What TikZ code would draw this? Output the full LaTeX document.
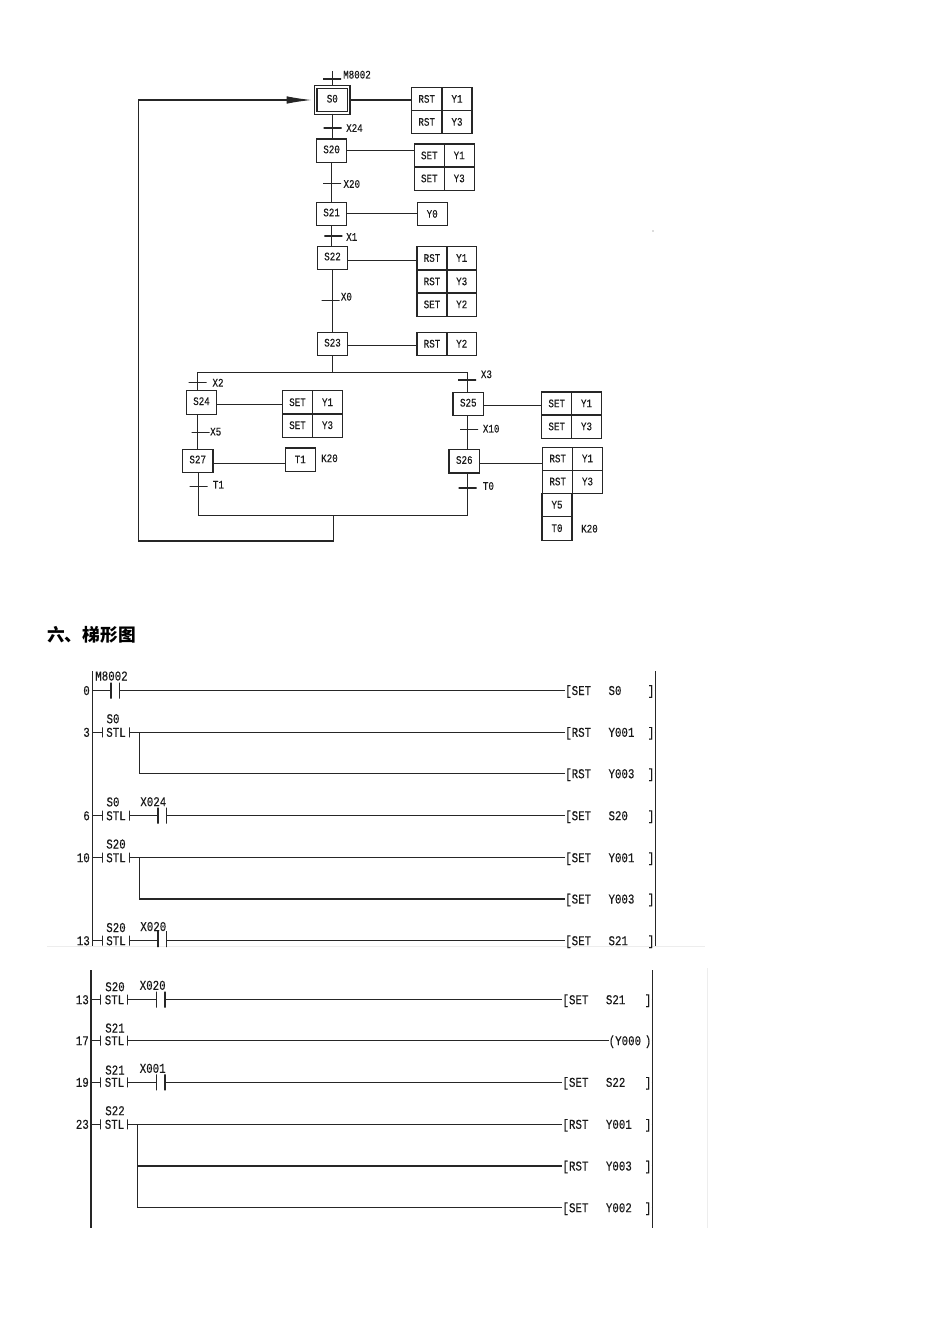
\documentclass[tikz,border=0pt]{standalone}
\usepackage{fontspec}
\usepackage{tikz}
\usetikzlibrary{arrows.meta}
\newfontfamily\cjk{Noto Sans CJK SC}
\newfontfamily\plcfont[FakeStretch=0.8,FakeBold=0.25]{Liberation Mono}
\tikzset{
  wire/.style={line width=1.15pt,black!85},
  sfctext/.style={font=\plcfont\fontsize{11.5}{12}\selectfont,text=black!90},
  plctext/.style={font=\plcfont\fontsize{13.5}{14}\selectfont,text=black!90,inner sep=0pt,text height=9pt,text depth=0pt},
  stepbox/.style={draw,wire,rectangle,sfctext,minimum width=30.5pt,minimum height=23.4pt,inner sep=0pt,text height=8pt,text depth=3pt},
  initbox/.style={stepbox,double,double distance=1.2pt,minimum width=33pt,minimum height=26pt},
  cell/.style={draw,wire,rectangle,sfctext,minimum width=30pt,minimum height=23.3pt,inner sep=0pt,text height=8pt,text depth=1pt},
  tbar/.style={draw,wire,rectangle,minimum width=18pt,minimum height=0pt,inner sep=0pt},
  tlabel/.style={sfctext,anchor=west,inner sep=0pt},
  cbar/.style={draw,wire,rectangle,minimum width=0pt,minimum height=16pt,inner sep=0pt},
  sbar/.style={cbar,minimum height=10pt},
  num/.style={plctext,anchor=east},
  ltext/.style={plctext,anchor=west},
  ctext/.style={plctext,anchor=center},
  faint/.style={line width=0.8pt,black!7}
}
\begin{document}
\begin{tikzpicture}[x=1pt,y=-1pt]
\useasboundingbox (0,0) rectangle (950,1344);
% steps
\coordinate (top) at (332.5,71);
\node (s0) [initbox] at (332.3,100) {S0};
\node (s20) [stepbox] at (331.6,150.7) {S20};
\node (s21) [stepbox] at (331.6,213.8) {S21};
\node (s22) [stepbox] at (332.5,257.8) {S22};
\node (s23) [stepbox] at (332.5,344) {S23};
\node (s24) [stepbox] at (201.5,402.5) {S24};
\node (s27) [stepbox] at (197.7,460.8) {S27};
\node (s25) [stepbox] at (468.3,404) {S25};
\node (s26) [stepbox] at (464.3,461.3) {S26};
% actions
\node (a0a) [cell] at (426.7,99.2) {RST};
\node (a0b) [cell] at (457,99.2) {Y1};
\node (a0c) [cell] at (426.7,122.2) {RST};
\node (a0d) [cell] at (457,122.2) {Y3};
\node (a20a) [cell] at (429.3,155.7) {SET};
\node (a20b) [cell] at (459.2,155.7) {Y1};
\node (a20c) [cell] at (429.3,178.7) {SET};
\node (a20d) [cell] at (459.2,178.7) {Y3};
\node (a21a) [cell] at (432.2,214.2) {Y0};
\node (a22a) [cell] at (432,258.3) {RST};
\node (a22b) [cell] at (461.7,258.3) {Y1};
\node (a22c) [cell] at (432,281.7) {RST};
\node (a22d) [cell] at (461.7,281.7) {Y3};
\node (a22e) [cell] at (432,304.7) {SET};
\node (a22f) [cell] at (461.7,304.7) {Y2};
\node (a23a) [cell] at (432,344) {RST};
\node (a23b) [cell] at (461.7,344) {Y2};
\node (a24a) [cell] at (297.5,402.5) {SET};
\node (a24b) [cell] at (327.5,402.5) {Y1};
\node (a24c) [cell] at (297.5,425.5) {SET};
\node (a24d) [cell] at (327.5,425.5) {Y3};
\node (a27a) [cell] at (300.3,459.7) {T1};
\node (k27) [tlabel] at (321,458.3) {K20};
\node (a25a) [cell] at (556.7,403.7) {SET};
\node (a25b) [cell] at (586.5,403.7) {Y1};
\node (a25c) [cell] at (556.7,426.7) {SET};
\node (a25d) [cell] at (586.5,426.7) {Y3};
\node (a26a) [cell] at (557.7,458.8) {RST};
\node (a26b) [cell] at (587.5,458.8) {Y1};
\node (a26c) [cell] at (557.7,481.8) {RST};
\node (a26d) [cell] at (587.5,481.8) {Y3};
\node (a26e) [cell] at (557,505) {Y5};
\node (a26f) [cell] at (557,528.5) {T0};
\node (k26) [tlabel] at (581,528.7) {K20};
% transitions
\node (t0) [tbar] at (332,79) {};
\node (l0) [tlabel] at (343,74.7) {M8002};
\node (t24) [tbar] at (332.5,128) {};
\node (l24) [tlabel] at (346,128) {X24};
\node (t20) [tbar] at (332,183.3) {};
\node (l20) [tlabel] at (343.3,184) {X20};
\node (t1) [tbar] at (333.3,236) {};
\node (l1) [tlabel] at (346,237) {X1};
\node (t00) [tbar] at (330.5,300.7) {};
\node (l00) [tlabel] at (340.7,296.7) {X0};
\node (t2) [tbar] at (197.7,382.7) {};
\node (l2) [tlabel] at (212.3,382.7) {X2};
\node (t5) [tbar] at (200.7,432.3) {};
\node (l5) [tlabel] at (210,431.7) {X5};
\node (tt1) [tbar] at (198.5,486.3) {};
\node (lt1) [tlabel] at (212.7,484.7) {T1};
\node (t3) [tbar] at (467.2,380) {};
\node (l3) [tlabel] at (480.7,374.3) {X3};
\node (t10) [tbar] at (469.2,429.7) {};
\node (l10) [tlabel] at (482.7,428.7) {X10};
\node (tt0) [tbar] at (467.5,488) {};
\node (lt0) [tlabel] at (482.7,486) {T0};
% sfc connectors
\coordinate (brL) at (197.7,372.3);
\coordinate (brR) at (467.7,372.3);
\coordinate (joinL) at (198.3,515.7);
\coordinate (joinM) at (333.3,515.7);
\coordinate (joinR) at (467.7,515.7);
\coordinate (back) at (138.3,541);
\coordinate (speck) at (653,231);
\draw [wire] (top) -- (top |- s0.north);
\draw [wire] (s0.south) -- (s0.south |- s20.north);
\draw [wire] (s20.south) -- (s20.south |- s21.north);
\draw [wire] (s21.south) -- (s21.south |- s22.north);
\draw [wire] (s22.south) -- (s22.south |- s23.north);
\draw [wire] (s23.south) -- (s23.south |- brL);
\draw [wire] (brL) -- (brR);
\draw [wire] (brL) -- (brL |- s24.north);
\draw [wire] (brL |- s24.south) -- (brL |- s27.north);
\draw [wire] (joinL |- s27.south) -- (joinL) -- (joinR) -- (joinR |- s26.south);
\draw [wire] (brR) -- (brR |- s25.north);
\draw [wire] (brR |- s25.south) -- (brR |- s26.north);
\draw [wire,-{Latex[length=25pt,width=7.5pt]},shorten >=3.5pt] (joinM) |- (back) |- (s0);
\draw [wire] (s0) -- (s0 -| a0a.west);
\draw [wire] (s20) -- (s20 -| a20a.west);
\draw [wire] (s21) -- (s21 -| a21a.west);
\draw [wire] ([yshift=-3pt]s22.east) -- ([yshift=-3pt]s22.east -| a22a.west);
\draw [wire] ([yshift=-1.3pt]s23.east) -- ([yshift=-1.3pt]s23.east -| a23a.west);
\draw [wire] ([yshift=-1.8pt]s24.east) -- ([yshift=-1.8pt]s24.east -| a24a.west);
\draw [wire] ([yshift=-2.5pt]s27.east) -- ([yshift=-2.5pt]s27.east -| a27a.west);
\draw [wire] ([yshift=-1.3pt]s25.east) -- ([yshift=-1.3pt]s25.east -| a25a.west);
\draw [wire] ([yshift=-2pt]s26.east) -- ([yshift=-2pt]s26.east -| a26a.west);
\fill [black!60] (speck) circle (0.6);
% title
\node (title) [anchor=west,inner sep=0pt,font=\cjk\bfseries\fontsize{17.7}{18}\selectfont] at (47,634.5) {六、梯形图};
% first ladder
\coordinate (railA) at (92.3,671);
\coordinate (railAb) at (92.3,946);
\coordinate (railB) at (655.3,671);
\coordinate (railBb) at (655.3,946);
\coordinate (cutL) at (47,946.5);
\coordinate (cutR) at (705,946.5);
\draw [faint] (cutL) -- (cutR);
\draw [wire] (railA) -- (railAb);
\draw [wire] (railB) -- (railBb);
\node (n0) [num] at (90,690.5) {0};
\node (m0) [ctext] at (111.5,676) {M8002};
\node (c0a) [cbar] at (111,690.5) {};
\node (c0b) [cbar] at (119.3,690.5) {};
\node (o0) [ltext] at (565,690.5) {[SET};
\node (v0) [ltext] at (608.3,690.5) {S0};
\node (e0) [num] at (654.5,690.5) {]};
\draw [wire] (railA |- c0a) -- (c0a);
\draw [wire] (c0b) -- (o0);
\draw [wire] (e0.east) -- (e0.east -| railB);
\node (n3) [num] at (90,732.3) {3};
\node (m3) [ctext] at (113,718.7) {S0};
\node (b3a) [sbar] at (102.3,732.3) {};
\node (k3) [ctext] at (116,732.3) {STL};
\node (b3b) [sbar] at (129.3,732.3) {};
\node (o3) [ltext] at (565,732.3) {[RST};
\node (v3) [ltext] at (608.3,732.3) {Y001};
\node (e3) [num] at (654.5,732.3) {]};
\draw [wire] (railA |- b3a) -- (b3a);
\draw [wire] (b3b) -- (o3);
\draw [wire] (e3.east) -- (e3.east -| railB);
\coordinate (f3) at (139.3,732.3);
\node (o4) [ltext] at (565,773.7) {[RST};
\node (v4) [ltext] at (608.3,773.7) {Y003};
\node (e4) [num] at (654.5,773.7) {]};
\draw [wire] (f3) |- (o4);
\draw [wire] (e4.east) -- (e4.east -| railB);
\node (n6) [num] at (90,815.7) {6};
\node (m6) [ctext] at (113,801.9) {S0};
\node (b6a) [sbar] at (102.3,815.7) {};
\node (k6) [ctext] at (116,815.7) {STL};
\node (b6b) [sbar] at (129.3,815.7) {};
\node (x6) [ctext] at (153.3,801.7) {X024};
\node (c6a) [cbar] at (158,815.7) {};
\node (c6b) [cbar] at (166.7,815.7) {};
\node (o6) [ltext] at (565,815.7) {[SET};
\node (v6) [ltext] at (608.3,815.7) {S20};
\node (e6) [num] at (654.5,815.7) {]};
\draw [wire] (railA |- b6a) -- (b6a);
\draw [wire] (b6b) -- (c6a);
\draw [wire] (c6b) -- (o6);
\draw [wire] (e6.east) -- (e6.east -| railB);
\node (n10) [num] at (90,857.7) {10};
\node (m10) [ctext] at (116,844) {S20};
\node (b10a) [sbar] at (102.3,857.7) {};
\node (k10) [ctext] at (116,857.7) {STL};
\node (b10b) [sbar] at (129.3,857.7) {};
\node (o10) [ltext] at (565,857.7) {[SET};
\node (v10) [ltext] at (608.3,857.7) {Y001};
\node (e10) [num] at (654.5,857.7) {]};
\draw [wire] (railA |- b10a) -- (b10a);
\draw [wire] (b10b) -- (o10);
\draw [wire] (e10.east) -- (e10.east -| railB);
\coordinate (f10) at (139.3,857.7);
\node (o11) [ltext] at (565,899) {[SET};
\node (v11) [ltext] at (608.3,899) {Y003};
\node (e11) [num] at (654.5,899) {]};
\draw [wire] (f10) |- (o11);
\draw [wire] (e11.east) -- (e11.east -| railB);
\node (n13) [num] at (90,940.7) {13};
\node (m13) [ctext] at (116,927.5) {S20};
\node (b13a) [sbar] at (102.3,940.7) {};
\node (k13) [ctext] at (116,940.7) {STL};
\node (b13b) [sbar] at (129.3,940.7) {};
\node (x13) [ctext] at (153.3,926.5) {X020};
\node (c13a) [cbar] at (158,939) {};
\node (c13b) [cbar] at (166.7,939) {};
\node (o13) [ltext] at (565,940.7) {[SET};
\node (v13) [ltext] at (608.3,940.7) {S21};
\node (e13) [num] at (654.5,940.7) {]};
\draw [wire] (railA |- b13a) -- (b13a);
\draw [wire] (b13b) -- (b13b -| c13a);
\draw [wire] (c13b |- b13b) -- (o13);
\draw [wire] (e13.east) -- (e13.east -| railB);
% second ladder
\coordinate (railC) at (91,970);
\coordinate (railCb) at (91,1228.3);
\coordinate (railD) at (652.3,970);
\coordinate (railDb) at (652.3,1228.3);
\coordinate (edgeT) at (707,968);
\coordinate (edgeB) at (707,1228);
\draw [faint] (edgeT) -- (edgeB);
\draw [wire] (railC) -- (railCb);
\draw [wire] (railD) -- (railDb);
\node (n20) [num] at (89,999.7) {13};
\node (m20) [ctext] at (115,986.7) {S20};
\node (b20a) [sbar] at (100.7,999.7) {};
\node (k20) [ctext] at (114.5,999.7) {STL};
\node (b20b) [sbar] at (127.7,999.7) {};
\node (x20) [ctext] at (152.7,985.3) {X020};
\node (c20a) [cbar] at (156.7,999.7) {};
\node (c20b) [cbar] at (165,999.7) {};
\node (o20) [ltext] at (562.3,999.7) {[SET};
\node (v20) [ltext] at (605.7,999.7) {S21};
\node (e20) [num] at (651.5,999.7) {]};
\draw [wire] (railC |- b20a) -- (b20a);
\draw [wire] (b20b) -- (c20a);
\draw [wire] (c20b) -- (o20);
\draw [wire] (e20.east) -- (e20.east -| railD);
\node (n21) [num] at (89,1040.7) {17};
\node (m21) [ctext] at (115,1028) {S21};
\node (b21a) [sbar] at (100.7,1040.7) {};
\node (k21) [ctext] at (114.5,1040.7) {STL};
\node (b21b) [sbar] at (127.7,1040.7) {};
\node (o21) [ltext] at (608.5,1040.7) {(Y000};
\node (e21) [num] at (651.5,1040.7) {)};
\draw [wire] (railC |- b21a) -- (b21a);
\draw [wire] (b21b) -- (o21);
\draw [wire] (e21.east) -- (e21.east -| railD);
\node (n22) [num] at (89,1082.3) {19};
\node (m22) [ctext] at (115,1070) {S21};
\node (b22a) [sbar] at (100.7,1082.3) {};
\node (k22) [ctext] at (114.5,1082.3) {STL};
\node (b22b) [sbar] at (127.7,1082.3) {};
\node (x22) [ctext] at (152.7,1068.3) {X001};
\node (c22a) [cbar] at (156.7,1082.3) {};
\node (c22b) [cbar] at (165,1082.3) {};
\node (o22) [ltext] at (562.3,1082.3) {[SET};
\node (v22) [ltext] at (605.7,1082.3) {S22};
\node (e22) [num] at (651.5,1082.3) {]};
\draw [wire] (railC |- b22a) -- (b22a);
\draw [wire] (b22b) -- (c22a);
\draw [wire] (c22b) -- (o22);
\draw [wire] (e22.east) -- (e22.east -| railD);
\node (n23) [num] at (89,1124.3) {23};
\node (m23) [ctext] at (115,1110.7) {S22};
\node (b23a) [sbar] at (100.7,1124.3) {};
\node (k23) [ctext] at (114.5,1124.3) {STL};
\node (b23b) [sbar] at (127.7,1124.3) {};
\node (o23) [ltext] at (562.3,1124.3) {[RST};
\node (v23) [ltext] at (605.7,1124.3) {Y001};
\node (e23) [num] at (651.5,1124.3) {]};
\draw [wire] (railC |- b23a) -- (b23a);
\draw [wire] (b23b) -- (o23);
\draw [wire] (e23.east) -- (e23.east -| railD);
\coordinate (f23) at (137.7,1124.3);
\node (o24) [ltext] at (562.3,1166) {[RST};
\node (v24) [ltext] at (605.7,1166) {Y003};
\node (e24) [num] at (651.5,1166) {]};
\draw [wire] (f23) |- (o24);
\draw [wire] (e24.east) -- (e24.east -| railD);
\node (o25) [ltext] at (562.3,1207.7) {[SET};
\node (v25) [ltext] at (605.7,1207.7) {Y002};
\node (e25) [num] at (651.5,1207.7) {]};
\draw [wire] (f23) |- (o25);
\draw [wire] (e25.east) -- (e25.east -| railD);
\end{tikzpicture}
\end{document}
